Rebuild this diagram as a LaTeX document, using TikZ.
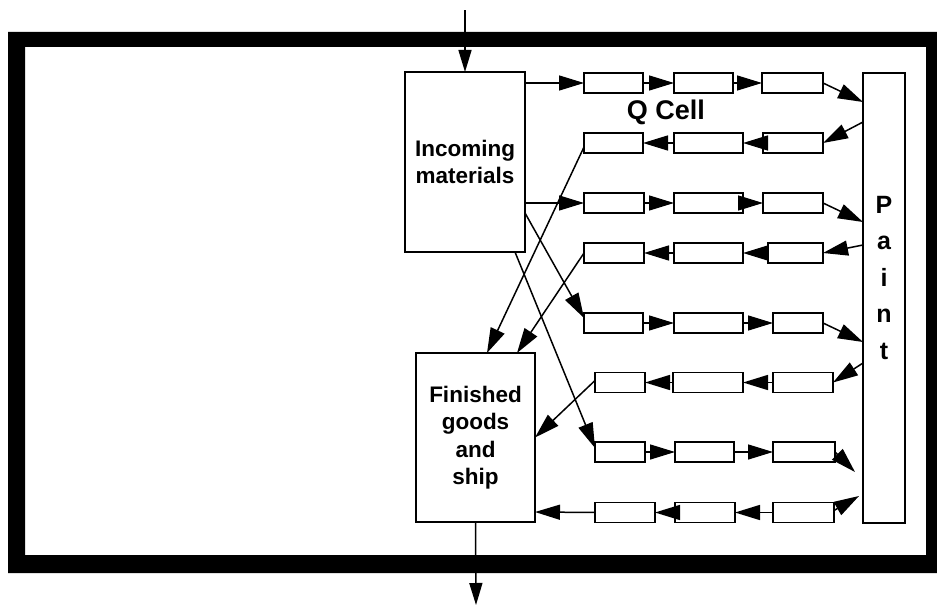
\documentclass[tikz,border=0pt]{standalone}
\usepackage{fontspec}
\setmainfont{Liberation Sans}
\usetikzlibrary{arrows.meta,calc}
\newcommand\qb[4]{\node[qbox, minimum width={(#3-#2)*1pt}] (#1) at ({(#2+#3)/2},#4) {};}
\begin{document}
\begin{tikzpicture}[x=1pt,y=-1pt,
  qbox/.style={draw, line width=1.8pt, inner sep=0pt, outer sep=0pt, minimum height=20pt},
  bigbox/.style={draw, line width=1.8pt, inner sep=0pt, outer sep=0pt, align=center,
     font=\fontsize{22.5}{27.5}\selectfont\bfseries},
  arr/.style={-{Triangle[length=25pt,width=15pt]}, line width=1.5pt},
  lbl/.style={inner sep=0pt, font=\bfseries}]
\useasboundingbox (0,0) rectangle (937,607);
% frame
\fill[even odd rule] (8,32) rectangle (937,573) (25,47) rectangle (926,555);
% main boxes
\node[bigbox, minimum width=120pt, minimum height=180pt] (inc) at (465,162) {Incoming\\materials};
\node[bigbox, minimum width=119pt, minimum height=169pt] (fin) at (475.5,437.5) {Finished\\goods\\and\\ship};
\node[qbox, minimum width=42pt, minimum height=450pt] (paint) at (884,298) {};
\node[lbl, anchor=north, align=center, font=\fontsize{25}{36.5}\selectfont\bfseries] (ptext) at (884,196) {P\\a\\i\\n\\t};
\node[lbl, font=\fontsize{27}{30}\selectfont\bfseries] (qcell) at (666,112) {Q Cell};
% small boxes
\qb{r1a}{584}{643}{83}   \qb{r1b}{674}{733}{83}   \qb{r1c}{762}{823}{83}
\qb{r2a}{584}{643}{143}  \qb{r2b}{674}{743}{143}  \qb{r2c}{763}{823}{143}
\qb{r3a}{584}{644}{203}  \qb{r3b}{674}{743}{203}  \qb{r3c}{763}{823}{203}
\qb{r4a}{584}{644}{253}  \qb{r4b}{674}{743}{253}  \qb{r4c}{768}{823}{253}
\qb{r5a}{584}{643}{323}  \qb{r5b}{674}{743}{323}  \qb{r5c}{773}{823}{323}
\qb{r6a}{595}{645}{382.5} \qb{r6b}{673}{743}{382.5} \qb{r6c}{773}{833}{382.5}
\qb{r7a}{595}{645}{452}  \qb{r7b}{675}{734}{452}  \qb{r7c}{773}{835}{452}
\qb{r8a}{595}{655}{512.5} \qb{r8b}{675}{735}{512.5} \qb{r8c}{773}{834}{512.5}
\coordinate (top) at (465,10);
\coordinate (bot) at (476,605);
\coordinate (e7) at (855,472);
\coordinate (e8) at (859,496);
% in / out
\draw[arr, {Triangle[length=22pt,width=13pt]}-] (inc.north) -- (top);
\draw[arr, -{Triangle[length=22pt,width=13pt]}] (fin.south) -- (bot);
% row 1
\draw[arr] (inc.east |- r1a) -- (r1a.west);
\draw[arr] (r1a.east) -- (r1b.west);
\draw[arr] (r1b.east) -- (r1c.west);
\draw[arr] (r1c.east) -- ([yshift=-29pt]paint.north west);
% row 2
\draw[arr] ([yshift=-49pt]paint.north west) -- (r2c.east);
\draw[arr] (r2c.west) -- (r2b.east);
\draw[arr] (r2b.west) -- (r2a.east);
\draw[arr] ([yshift=-4pt]r2a.west) -- ([xshift=71pt]fin.north west);
% row 3
\draw[arr] (inc.east |- r3a) -- (r3a.west);
\draw[arr] (r3a.east) -- (r3b.west);
\draw[arr] (r3b.east) -- (r3c.west);
\draw[arr] (r3c.east) -- ([yshift=-149pt]paint.north west);
% row 4
\draw[arr] ([yshift=-172pt]paint.north west) -- (r4c.east);
\draw[arr] (r4c.west) -- (r4b.east);
\draw[arr] (r4b.west) -- (r4a.east);
\draw[arr] (r4a.west) -- ([xshift=101pt]fin.north west);
% row 5
\draw[arr] ([yshift=-51pt]inc.east) -- ([yshift=5pt]r5a.west);
\draw[arr] (r5a.east) -- (r5b.west);
\draw[arr] (r5b.east) -- (r5c.west);
\draw[arr] (r5c.east) -- ([yshift=-269pt]paint.north west);
% row 6
\draw[arr] ([yshift=-290pt]paint.north west) -- (r6c.east);
\draw[arr] (r6c.west) -- (r6b.east);
\draw[arr] (r6b.west) -- (r6a.east);
\draw[arr] ([yshift=2pt]r6a.west) -- (fin.east);
% row 7
\draw[arr] ([xshift=-10pt]inc.south east) -- ([yshift=4pt]r7a.west);
\draw[arr] (r7a.east) -- (r7b.west);
\draw[arr] (r7b.east) -- (r7c.west);
\draw[arr] (r7c.east) -- (e7);
% row 8
\draw[arr] ([yshift=2pt]r8c.east) -- (e8);
\draw[arr] (r8c.west) -- (r8b.east);
\draw[arr] (r8b.west) -- (r8a.east);
\draw[arr] (r8a.west) -- ([yshift=10pt]fin.south east);
\end{tikzpicture}
\end{document}
